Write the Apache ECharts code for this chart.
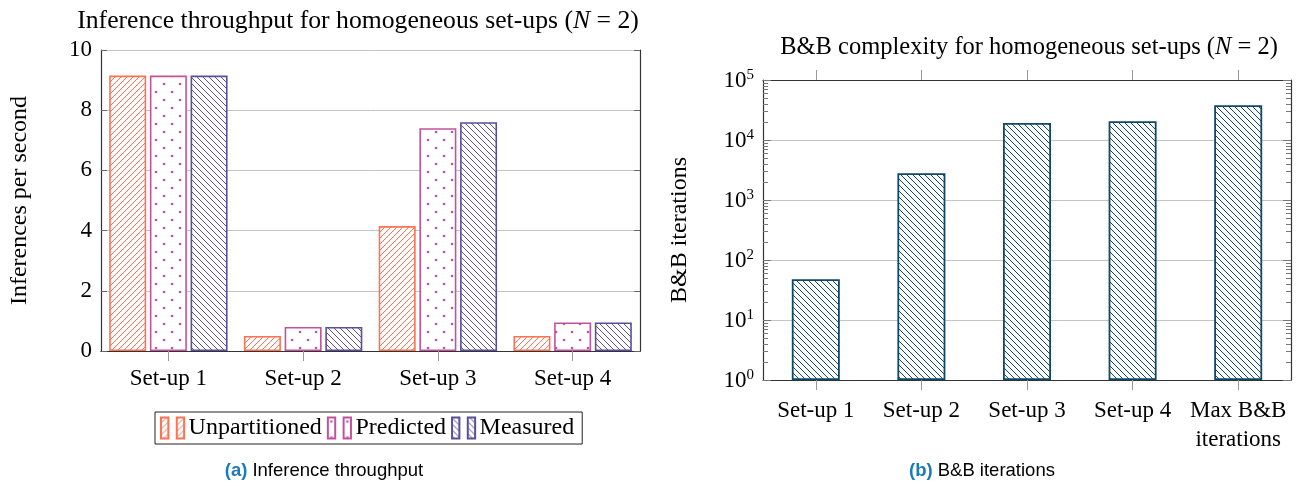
<!DOCTYPE html>
<html>
<head>
<meta charset="utf-8">
<script src="https://cdn.jsdelivr.net/npm/echarts@6/dist/echarts.min.js"></script>
<style>
html,body{margin:0;padding:0;background:#fff;}
#c{width:1310px;height:486px;}
</style>
</head>
<body>
<div id="c"></div>
<script>
// ---- data ----
const setups = ['Set-up 1', 'Set-up 2', 'Set-up 3', 'Set-up 4'];
const unpartitioned = [9.15, 0.5, 4.15, 0.5];
const predicted = [9.15, 0.8, 7.4, 0.95];
const measured = [9.15, 0.8, 7.6, 0.95];
const throughputTicks = [0, 2, 4, 6, 8, 10];

const bbCategories = ['Set-up 1', 'Set-up 2', 'Set-up 3', 'Set-up 4', 'Max B&B\niterations'];
const bbIterations = [48, 2800, 19200, 20500, 38000];
const bbDecades = [1, 10, 100, 1000, 10000, 100000];

// ---- styles ----
const SERIF = '"Liberation Serif", "Times New Roman", serif';
const SANS = '"Liberation Sans", Arial, sans-serif';
const C_UNP = '#FC7354';
const C_PRED = '#C2529B';
const C_MEAS = '#5B4F9A';
const C_BB = '#0E4A66';

function hatch(color, dir, s) {
  const c = document.createElement('canvas');
  c.width = s; c.height = s;
  const g = c.getContext('2d');
  g.fillStyle = '#fff'; g.fillRect(0, 0, s, s);
  g.strokeStyle = color; g.lineWidth = 1;
  g.beginPath();
  if (dir === '/') {
    g.moveTo(0, s); g.lineTo(s, 0);
    g.moveTo(-1, 1); g.lineTo(1, -1);
    g.moveTo(s - 1, s + 1); g.lineTo(s + 1, s - 1);
  } else {
    g.moveTo(0, 0); g.lineTo(s, s);
    g.moveTo(-1, s - 1); g.lineTo(1, s + 1);
    g.moveTo(s - 1, -1); g.lineTo(s + 1, 1);
  }
  g.stroke();
  return c;
}
function dots(color) {
  const s = 16;
  const c = document.createElement('canvas');
  c.width = s; c.height = s;
  const g = c.getContext('2d');
  g.fillStyle = '#fff'; g.fillRect(0, 0, s, s);
  g.fillStyle = color;
  [[4, 4], [12, 12]].forEach(p => { g.beginPath(); g.arc(p[0], p[1], 1.3, 0, Math.PI * 2); g.fill(); });
  return c;
}
const pat = (cv) => ({ image: cv, repeat: 'repeat' });

// minor tick values of the log axis (axis decoration: 2..9 x each decade)
const minorLogTicks = [];
for (let i = 0; i < bbDecades.length - 1; i++) for (let k = 2; k <= 9; k++) minorLogTicks.push(bbDecades[i] * k);

const supLabel = v => {
  const e = Math.round(Math.log10(v));
  return '{b|10}{s|' + e + '}';
};
const supRich = {
  b: { fontFamily: SERIF, fontSize: 23, color: '#000', verticalAlign: 'bottom' },
  s: { fontFamily: SERIF, fontSize: 15, color: '#000', verticalAlign: 'bottom', padding: [0, 0, 10, 0] }
};
const titleRich = (fs) => ({
  t: { fontFamily: SERIF, fontSize: fs, fontWeight: 'normal', color: '#000' },
  i: { fontFamily: SERIF, fontSize: fs, fontWeight: 'normal', fontStyle: 'italic', color: '#000' }
});
const capRich = {
  a: { fontFamily: SANS, fontSize: 18.5, fontWeight: 'bold', color: '#1A7BB6' },
  t: { fontFamily: SANS, fontSize: 18.5, fontWeight: 'normal', color: '#000' }
};

const chart = echarts.init(document.getElementById('c'));
const legendIcon = 'path://M0,0 L7,0 L7,20 L0,20 Z M15,0 L22,0 L22,20 L15,20 Z';

const frameLine = { show: true, lineStyle: { color: '#333', width: 1.2 } };
const outerTick = { show: true, alignWithLabel: true, length: 10, lineStyle: { color: '#999' } };

const option = {
  backgroundColor: '#fff',
  animation: false,
  title: [
    { text: '{t|Inference throughput for homogeneous set-ups (}{i|N}{t| = 2)}', left: 353, top: 3, textAlign: 'center',
      textStyle: { fontWeight: 'normal', rich: titleRich(25.7) } },
    { text: '{t|B&B complexity for homogeneous set-ups (}{i|N}{t| = 2)}', left: 1024, top: 30, textAlign: 'center',
      textStyle: { fontWeight: 'normal', rich: titleRich(24.5) } },
    { text: '{a|(a)} {t|Inference throughput}', left: 319, top: 456, textAlign: 'center',
      textStyle: { fontWeight: 'normal', rich: capRich } },
    { text: '{a|(b)} {t|B&B iterations}', left: 977, top: 456, textAlign: 'center',
      textStyle: { fontWeight: 'normal', rich: capRich } }
  ],
  legend: {
    data: ['Unpartitioned', 'Predicted', 'Measured'],
    left: 155, top: 412,
    orient: 'horizontal',
    icon: legendIcon,
    itemWidth: 24, itemHeight: 21, itemGap: 5,
    padding: [4, 8, 4, 5],
    borderColor: '#222', borderWidth: 1,
    textStyle: { fontFamily: SERIF, fontSize: 24, color: '#000', padding: [0, 0, 0, -1] }
  },
  grid: [
    { left: 101, right: 670, top: 50, bottom: 135 },
    { left: 763, right: 19, top: 80, bottom: 106 }
  ],
  xAxis: [
    { type: 'category', gridIndex: 0, data: setups, position: 'bottom',
      axisLine: frameLine, axisTick: outerTick,
      axisLabel: { fontFamily: SERIF, fontSize: 23, color: '#000', margin: 16 } },
    { type: 'category', gridIndex: 0, data: setups, position: 'top',
      axisLine: frameLine, axisTick: outerTick, axisLabel: { show: false } },
    { type: 'category', gridIndex: 1, data: bbCategories, position: 'bottom',
      axisLine: frameLine, axisTick: outerTick,
      axisLabel: { fontFamily: SERIF, fontSize: 23, color: '#000', margin: 16, lineHeight: 29, interval: 0 } },
    { type: 'category', gridIndex: 1, data: bbCategories, position: 'top',
      axisLine: frameLine, axisTick: outerTick, axisLabel: { show: false } }
  ],
  yAxis: [
    { type: 'value', gridIndex: 0, min: 0, max: 10, interval: 2, position: 'left',
      name: 'Inferences per second', nameLocation: 'middle', nameGap: 69, nameRotate: 90,
      nameTextStyle: { fontFamily: SERIF, fontSize: 24, color: '#000' },
      axisLine: frameLine,
      axisTick: { show: true, inside: true, length: 6, lineStyle: { color: '#666' } },
      axisLabel: { fontFamily: SERIF, fontSize: 23, color: '#000', margin: 9,
        formatter: v => throughputTicks.includes(v) ? String(v) : '' },
      splitLine: { show: true, lineStyle: { color: '#c4c4c4', width: 1 } } },
    { type: 'value', gridIndex: 0, min: 0, max: 10, interval: 2, position: 'right',
      axisLine: frameLine,
      axisTick: { show: true, inside: true, length: 6, lineStyle: { color: '#666' } },
      axisLabel: { show: false }, splitLine: { show: false } },
    { type: 'log', logBase: 10, gridIndex: 1, min: 1, max: 100000, position: 'left',
      name: 'B&B iterations', nameLocation: 'middle', nameGap: 71, nameRotate: 90,
      nameTextStyle: { fontFamily: SERIF, fontSize: 24, color: '#000' },
      axisLine: frameLine,
      axisTick: { show: true, inside: true, length: 8, lineStyle: { color: '#777' } },
      axisLabel: { formatter: supLabel, rich: supRich, margin: 9 },
      splitLine: { show: true, lineStyle: { color: '#c4c4c4', width: 1 } } },
    { type: 'log', logBase: 10, gridIndex: 1, min: 1, max: 100000, position: 'right',
      axisLine: frameLine,
      axisTick: { show: true, inside: true, length: 8, lineStyle: { color: '#777' } },
      axisLabel: { show: false }, splitLine: { show: false } }
  ],
  series: [
    { name: 'Unpartitioned', type: 'bar', xAxisIndex: 0, yAxisIndex: 0, data: unpartitioned,
      barWidth: 37, barGap: '10%',
      itemStyle: { color: pat(hatch(C_UNP, '/', 6)), borderColor: C_UNP, borderWidth: 1.6 } },
    { name: 'Predicted', type: 'bar', xAxisIndex: 0, yAxisIndex: 0, data: predicted,
      barWidth: 37, barGap: '10%',
      itemStyle: { color: pat(dots(C_PRED)), borderColor: C_PRED, borderWidth: 1.6 } },
    { name: 'Measured', type: 'bar', xAxisIndex: 0, yAxisIndex: 0, data: measured,
      barWidth: 37, barGap: '10%',
      itemStyle: { color: pat(hatch(C_MEAS, '\\', 6)), borderColor: C_MEAS, borderWidth: 1.6 } },
    { name: 'B&B iterations', type: 'bar', xAxisIndex: 2, yAxisIndex: 2, data: bbIterations,
      barWidth: 48,
      itemStyle: { color: pat(hatch(C_BB, '\\', 6)), borderColor: C_BB, borderWidth: 1.8 } },
    { name: 'minor ticks', type: 'custom', xAxisIndex: 2, yAxisIndex: 2, silent: true, z: 5,
      data: minorLogTicks.map(v => [0, v]),
      encode: { x: 0, y: 1 },
      renderItem: (params, api) => {
        const y = Math.round(api.coord([0, api.value(1)])[1]) + 0.5;
        const cs = params.coordSys;
        const st = { stroke: '#777', lineWidth: 1 };
        return { type: 'group', children: [
          { type: 'line', shape: { x1: cs.x, y1: y, x2: cs.x + 5, y2: y }, style: st },
          { type: 'line', shape: { x1: cs.x + cs.width - 5, y1: y, x2: cs.x + cs.width, y2: y }, style: st }
        ] };
      } }
  ]
};
chart.setOption(option);
</script>
</body>
</html>
